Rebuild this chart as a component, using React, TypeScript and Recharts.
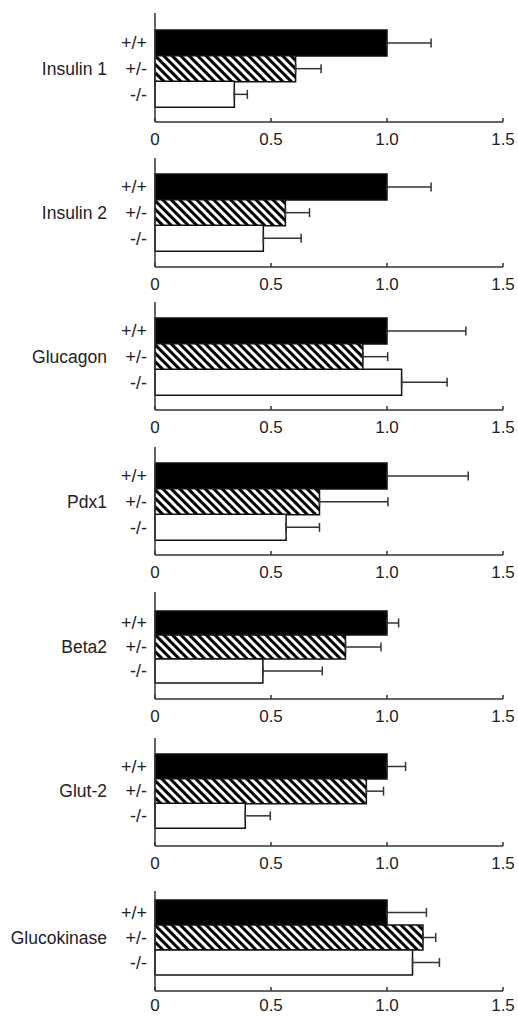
import React from "react";
import { BarChart, Bar, XAxis, YAxis, Cell, ErrorBar } from "recharts";

const genes = ["Insulin 1", "Insulin 2", "Glucagon", "Pdx1", "Beta2", "Glut-2", "Glucokinase"];
const genotypes = ["+/+", "+/-", "-/-"];
const wildType = [1, 1, 1, 1, 1, 1, 1];
const wildTypeErr = [0.19, 0.19, 0.34, 0.35, 0.05, 0.08, 0.17];
const hetero = [0.606, 0.562, 0.896, 0.709, 0.821, 0.911, 1.155];
const heteroErr = [0.11, 0.104, 0.107, 0.295, 0.153, 0.074, 0.055];
const knockout = [0.342, 0.467, 1.063, 0.565, 0.465, 0.389, 1.11];
const knockoutErr = [0.056, 0.163, 0.196, 0.144, 0.256, 0.108, 0.116];
const xTicks = [0, 0.5, 1, 1.5];
const xTickLabels = ["0", "0.5", "1.0", "1.5"];

// layout (pixel positions per panel)
const panelTop = [13, 158, 302, 447, 592, 738, 891];
const panelAxis = [122, 267, 410, 555, 699, 846, 991];
const padTop = [17, 16, 16, 16, 19, 16, 9];
const padBottom = [15, 16, 15, 15, 16, 18, 16];
const labelGap = [15, 15, 15, 15, 15, 15, 12];

const FONT = '"Liberation Sans", Arial, Helvetica, sans-serif';
const INK = "#222";
const AXIS = "#333";

function Panel({ i }: { i: number }) {
  const plotH = panelAxis[i] - panelTop[i];
  const axisH = 30;
  const data = [
    { g: genotypes[0], v: wildType[i], err: [0, wildTypeErr[i]] },
    { g: genotypes[1], v: hetero[i], err: [0, heteroErr[i]] },
    { g: genotypes[2], v: knockout[i], err: [0, knockoutErr[i]] },
  ];
  const hatchId = `hatch-${i}`;
  const fills = ["#000", `url(#${hatchId})`, "#fff"];
  const midY = panelTop[i] + padTop[i] + (plotH - padTop[i] - padBottom[i]) / 2;
  return (
    <>
      <div
        style={{
          position: "absolute",
          left: 0,
          width: 107,
          top: midY - 10,
          height: 20,
          lineHeight: "20px",
          textAlign: "right",
          fontFamily: FONT,
          fontSize: 17.5,
          color: INK,
          whiteSpace: "nowrap",
        }}
      >
        {genes[i]}
      </div>
      <div style={{ position: "absolute", left: 0, top: panelTop[i] }}>
        <BarChart
          width={518}
          height={plotH + axisH}
          data={data}
          layout="vertical"
          barCategoryGap={0}
          margin={{ top: 0, right: 15, left: 0, bottom: 0 }}
        >
          <defs>
            <pattern
              id={hatchId}
              patternUnits="userSpaceOnUse"
              width="6"
              height="6"
              patternTransform="rotate(-45)"
            >
              <rect width="6" height="6" fill="#fff" />
              <rect width="3" height="6" fill="#000" />
            </pattern>
          </defs>
          <XAxis
            type="number"
            domain={[0, 1.5]}
            ticks={xTicks}
            tickFormatter={(v: number) => xTickLabels[xTicks.indexOf(v)]}
            height={axisH}
            tickSize={-4}
            tickMargin={labelGap[i]}
            axisLine={{ stroke: AXIS, strokeWidth: 1.5 }}
            tickLine={{ stroke: AXIS, strokeWidth: 1.5 }}
            tick={{ fill: INK, fontSize: 17, fontFamily: FONT }}
            interval={0}
          />
          <YAxis
            type="category"
            dataKey="g"
            width={155}
            tickLine={false}
            tickSize={0}
            tickMargin={8}
            padding={{ top: padTop[i], bottom: padBottom[i] }}
            axisLine={{ stroke: AXIS, strokeWidth: 1.5 }}
            tick={{ fill: INK, fontSize: 18, fontFamily: FONT }}
            interval={0}
          />
          <Bar dataKey="v" stroke="#111" strokeWidth={1.5} isAnimationActive={false}>
            {data.map((d, k) => (
              <Cell key={d.g} fill={fills[k]} />
            ))}
            <ErrorBar
              dataKey="err"
              direction="x"
              width={4.5}
              stroke={AXIS}
              strokeWidth={1.5}
              isAnimationActive={false}
            />
          </Bar>
        </BarChart>
      </div>
    </>
  );
}

export default function App() {
  return (
    <div style={{ position: "absolute", left: 0, top: 0, width: 518, height: 1017, background: "#fff" }}>
      {genes.map((g, i) => (
        <Panel key={g} i={i} />
      ))}
    </div>
  );
}
